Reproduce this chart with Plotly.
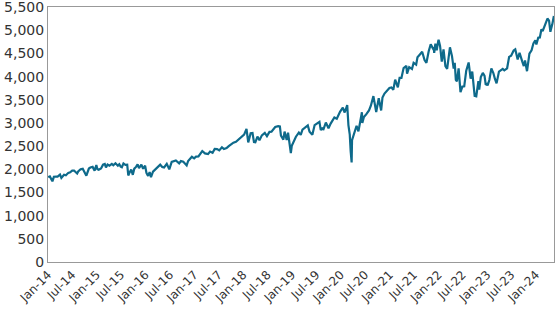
import plotly.graph_objects as go

dates = [
"2014-01-02","2014-01-15","2014-02-03","2014-02-14","2014-03-03","2014-03-14","2014-04-01","2014-04-11","2014-05-01","2014-05-15","2014-06-02","2014-06-16","2014-07-01","2014-07-15","2014-08-01","2014-08-07","2014-08-15","2014-09-02","2014-09-18","2014-10-01","2014-10-15","2014-11-03","2014-11-14","2014-12-01","2014-12-16","2014-12-29",
"2015-01-06","2015-01-15","2015-02-02","2015-02-17","2015-03-02","2015-03-11","2015-03-23","2015-04-06","2015-04-24","2015-05-05","2015-05-21","2015-06-08","2015-06-19","2015-06-29","2015-07-08","2015-07-20","2015-08-03","2015-08-17","2015-08-25","2015-09-01","2015-09-16","2015-09-28","2015-10-09","2015-10-22","2015-11-03","2015-11-13","2015-12-01","2015-12-14","2015-12-29",
"2016-01-08","2016-01-20","2016-02-01","2016-02-11","2016-02-26","2016-03-10","2016-03-24","2016-04-06","2016-04-20","2016-05-05","2016-05-19","2016-06-08","2016-06-27","2016-07-15","2016-08-01","2016-08-15","2016-09-09","2016-09-22","2016-10-10","2016-11-04","2016-11-15","2016-12-13","2016-12-30",
"2017-01-13","2017-01-31","2017-02-15","2017-03-01","2017-03-21","2017-04-13","2017-04-28","2017-05-17","2017-06-02","2017-06-20","2017-07-06","2017-07-26","2017-08-10","2017-08-30","2017-09-15","2017-10-05","2017-10-20","2017-11-08","2017-11-30","2017-12-18",
"2018-01-08","2018-01-26","2018-02-02","2018-02-08","2018-02-26","2018-03-12","2018-03-23","2018-04-02","2018-04-18","2018-05-03","2018-05-21","2018-06-12","2018-06-28","2018-07-17","2018-08-01","2018-08-29","2018-09-20","2018-10-03","2018-10-11","2018-10-29","2018-11-07","2018-11-23","2018-12-03","2018-12-14","2018-12-24","2018-12-31",
"2019-01-15","2019-01-31","2019-02-22","2019-03-08","2019-03-21","2019-04-15","2019-04-30","2019-05-13","2019-05-31","2019-06-03","2019-06-20","2019-07-15","2019-07-26","2019-08-05","2019-08-20","2019-08-23","2019-09-12","2019-10-02","2019-10-18","2019-11-15","2019-12-03","2019-12-27",
"2020-01-17","2020-01-31","2020-02-19","2020-02-28","2020-03-09","2020-03-16","2020-03-23","2020-03-26","2020-04-08","2020-04-20","2020-04-29","2020-05-13","2020-05-29","2020-06-08","2020-06-11","2020-06-23","2020-07-10","2020-07-31","2020-08-14","2020-09-02","2020-09-23","2020-10-12","2020-10-30","2020-11-09","2020-11-24","2020-12-15","2020-12-31",
"2021-01-15","2021-01-29","2021-02-12","2021-03-04","2021-03-17","2021-03-31","2021-04-16","2021-05-07","2021-05-12","2021-05-28","2021-06-18","2021-06-30","2021-07-19","2021-07-29","2021-08-16","2021-08-27","2021-09-02","2021-09-20","2021-10-04","2021-10-21","2021-11-05","2021-11-30","2021-12-01","2021-12-10","2021-12-20","2021-12-31",
"2022-01-03","2022-01-14","2022-01-27","2022-02-09","2022-02-23","2022-03-08","2022-03-29","2022-04-13","2022-04-26","2022-05-04","2022-05-12","2022-05-20","2022-06-02","2022-06-16","2022-06-30","2022-07-14","2022-07-29","2022-08-16","2022-08-31","2022-09-12","2022-09-30","2022-10-12","2022-10-28","2022-11-03","2022-11-15","2022-11-30","2022-12-13","2022-12-22","2022-12-30",
"2023-01-05","2023-01-18","2023-02-02","2023-02-17","2023-03-01","2023-03-13","2023-03-31","2023-04-18","2023-04-28","2023-05-10","2023-05-31","2023-06-15","2023-06-30","2023-07-19","2023-07-31","2023-08-18","2023-09-01","2023-09-21","2023-10-03","2023-10-12","2023-10-27","2023-11-14","2023-11-30","2023-12-14","2023-12-28",
"2024-01-05","2024-01-19","2024-01-31","2024-02-12","2024-02-21","2024-03-08","2024-03-28","2024-04-09","2024-04-19","2024-05-03","2024-05-15",
]

values = [
1832,1848,1742,1838,1845,1841,1885,1815,1883,1870,1924,1937,1973,1973,1925,1910,1955,2002,2011,1946,1862,2017,2039,2053,1972,2090,
2002,1992,2020,2100,2117,2040,2104,2080,2117,2089,2131,2079,2110,2057,2046,2128,2098,2102,1867,1914,1995,1881,2014,2052,2109,2023,2103,2012,2078,
1922,1859,1940,1829,1948,1989,2036,2066,2102,2051,2040,2119,2000,2161,2170,2190,2128,2177,2163,2085,2180,2271,2238,
2274,2279,2349,2395,2344,2329,2384,2357,2439,2437,2409,2477,2438,2457,2500,2552,2575,2594,2647,2690,
2748,2872,2762,2581,2779,2783,2588,2582,2708,2629,2733,2786,2716,2809,2813,2914,2931,2925,2728,2641,2814,2632,2790,2600,2351,2507,
2610,2704,2793,2743,2854,2906,2946,2812,2752,2744,2954,3014,3026,2845,2900,2847,3009,2887,2986,3120,3093,3240,
3330,3226,3386,2954,2747,2386,2150,2630,2750,2823,2940,2820,3044,3232,3002,3131,3185,3271,3373,3580,3237,3535,3270,3550,3635,3694,3756,
3768,3714,3934,3768,3974,3973,4185,4232,4063,4204,4166,4298,4258,4419,4479,4509,4537,4358,4300,4549,4697,4567,4513,4712,4568,4766,
4796,4662,4326,4587,4225,4170,4632,4447,4175,4300,3930,3901,4177,3666,3785,3790,4130,4305,3955,4110,3586,3577,3901,3720,3991,4080,4019,3822,3840,
3808,3928,4179,4079,3951,3855,4109,4154,4169,4137,4180,4426,4450,4565,4589,4370,4515,4330,4229,4350,4117,4496,4568,4719,4783,
4697,4840,4846,5022,4982,5124,5254,5209,4967,5128,5308,
]

tick_dates = ["2014-01-01","2014-07-01","2015-01-01","2015-07-01","2016-01-01","2016-07-01",
              "2017-01-01","2017-07-01","2018-01-01","2018-07-01","2019-01-01","2019-07-01",
              "2020-01-01","2020-07-01","2021-01-01","2021-07-01","2022-01-01","2022-07-01",
              "2023-01-01","2023-07-01","2024-01-01"]
tick_labels = ["Jan-14","Jul-14","Jan-15","Jul-15","Jan-16","Jul-16","Jan-17","Jul-17",
               "Jan-18","Jul-18","Jan-19","Jul-19","Jan-20","Jul-20","Jan-21","Jul-21",
               "Jan-22","Jul-22","Jan-23","Jul-23","Jan-24"]
y_ticks = [0, 500, 1000, 1500, 2000, 2500, 3000, 3500, 4000, 4500, 5000, 5500]

fig = go.Figure(go.Scatter(x=dates, y=values, mode="lines",
                           line=dict(color="#0e6a8b", width=2.2)))

fig.update_layout(
    width=558, height=309,
    margin=dict(l=48, r=4, t=7, b=47),
    paper_bgcolor="white", plot_bgcolor="white",
    showlegend=False,
    font=dict(family="DejaVu Sans", size=13, color="#333333"),
)
fig.update_xaxes(range=["2014-01-01", "2024-05-16"], tickvals=tick_dates, ticktext=tick_labels,
                 tickangle=-45, showgrid=False, showline=True, linecolor="#999999",
                 linewidth=1, mirror=True, ticks="", zeroline=False, automargin=False,
                 ticklabeloverflow="allow", tickfont=dict(size=12))
fig.update_yaxes(range=[0, 5503], tickvals=y_ticks, tickformat=",", showgrid=False, showline=True,
                 linecolor="#999999", linewidth=1, mirror=True, ticks="", zeroline=False,
                 automargin=False, ticklabeloverflow="allow", tickfont=dict(size=14))

fig.write_html("out.html")
